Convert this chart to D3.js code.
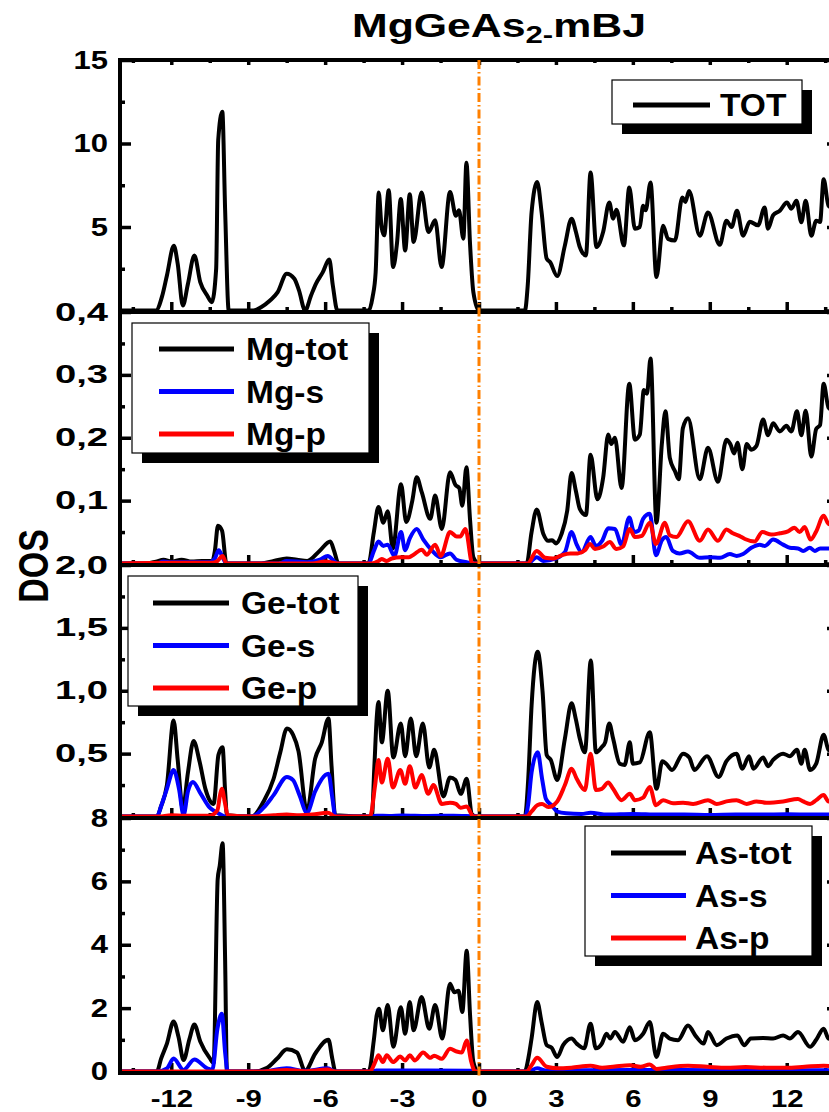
<!DOCTYPE html>
<html lang="en">
<head>
<meta charset="UTF-8">
<title>MgGeAs2 mBJ DOS</title>
<style>
  body { margin: 0; background: #fff; }
  svg { display: block; }
  text { font-family: "Liberation Sans", Arial, sans-serif; font-weight: bold; fill: #000; }
  .domain { display: none; }
  .tick line { stroke: #000; stroke-width: 3.5px; }
</style>
<script src="https://d3js.org/d3.v7.min.js"></script>
</head>
<body>
<svg></svg>
<script>
// energies (eV) vs DOS
const tot = [[-14,0],[-12.6,0],[-12.35,0.9],[-12.17,2.1],[-11.9,3.87],[-11.75,2.8],[-11.55,0.3],[-11.35,1.6],[-11.1,3.3],[-10.87,1.7],[-10.6,0.9],[-10.42,0.5],[-10.25,2.5],[-10.17,10.2],[-10.01,11.9],[-9.9,6],[-9.76,0],[-8.8,0],[-8.5,0.2],[-8.15,0.6],[-7.85,1.1],[-7.5,2.2],[-7.2,1.9],[-7.02,1.2],[-6.78,0],[-6.55,0.9],[-6.36,1.6],[-6.09,2.3],[-5.84,3.05],[-5.7,1.5],[-5.52,0],[-4.3,0],[-4.15,0.8],[-4.03,2.3],[-3.91,7.06],[-3.8,5.0],[-3.7,4.5],[-3.52,7.2],[-3.35,2.6],[-3.2,4],[-3.05,6.67],[-2.88,3.6],[-2.7,6.96],[-2.55,4.1],[-2.24,7.06],[-1.97,4.7],[-1.71,5.4],[-1.46,2.6],[-1.13,7.1],[-0.9,5.67],[-0.78,6.0],[-0.61,4.3],[-0.49,8.85],[-0.35,4],[-0.22,1.1],[0,0],[1.79,0],[1.9,1.5],[2.05,5.87],[2.27,7.7],[2.44,5.9],[2.64,3.1],[2.77,2.9],[3.05,2.06],[3.35,3.9],[3.61,5.5],[3.78,4.7],[3.93,3.8],[4.17,3.3],[4.35,8.26],[4.58,3.8],[4.84,4.7],[5.08,6.47],[5.23,5.5],[5.36,6.03],[5.65,3.9],[5.86,7.36],[6.08,4.9],[6.27,5.0],[6.4,6.27],[6.5,6.0],[6.69,7.66],[6.92,2.0],[7.18,5.08],[7.37,4.29],[7.64,4.19],[7.93,6.77],[8.05,6.5],[8.19,7.16],[8.61,4.48],[8.93,5.87],[9.39,3.93],[9.65,5.38],[9.85,5.0],[10.06,5.97],[10.3,4.48],[10.56,5.32],[10.88,5.1],[11.14,6.17],[11.27,4.9],[11.47,5.7],[11.73,5.97],[12.01,6.47],[12.18,6.1],[12.38,6.57],[12.57,5.28],[12.74,6.57],[12.96,4.48],[13.15,5.38],[13.3,5.3],[13.44,7.86],[13.63,6.27],[14,6.0]];

const mgTot = [[-14,0],[-13,0],[-12.6,0.003],[-12.3,0.006],[-12.0,0.003],[-11.6,0.006],[-11.2,0.003],[-10.8,0.004],[-10.4,0.004],[-10.3,0.02],[-10.18,0.06],[-10.02,0.052],[-9.85,0],[-8.5,0],[-8.0,0.004],[-7.5,0.008],[-7.1,0.006],[-6.7,0.004],[-6.22,0.02],[-5.8,0.035],[-5.65,0.02],[-5.48,0],[-4.31,0],[-4.1,0.05],[-3.92,0.09],[-3.73,0.065],[-3.56,0.083],[-3.36,0.024],[-3.04,0.126],[-2.84,0.066],[-2.6,0.10],[-2.43,0.137],[-2.23,0.113],[-1.9,0.071],[-1.71,0.108],[-1.45,0.055],[-1.13,0.145],[-0.92,0.125],[-0.77,0.12],[-0.65,0.092],[-0.49,0.153],[-0.35,0.07],[-0.22,0.01],[0,0],[1.86,0],[2.05,0.05],[2.25,0.086],[2.51,0.047],[2.7,0.036],[2.85,0.037],[3.0,0.032],[3.22,0.047],[3.44,0.084],[3.61,0.144],[3.78,0.115],[3.93,0.087],[4.17,0.077],[4.35,0.173],[4.62,0.102],[4.84,0.136],[5.04,0.205],[5.16,0.19],[5.3,0.2],[5.56,0.12],[5.86,0.286],[6.08,0.197],[6.27,0.205],[6.43,0.276],[6.55,0.27],[6.69,0.326],[6.92,0.065],[7.13,0.19],[7.27,0.242],[7.44,0.168],[7.64,0.147],[7.79,0.134],[7.95,0.215],[8.15,0.231],[8.61,0.134],[8.93,0.184],[9.32,0.13],[9.65,0.197],[9.8,0.19],[9.95,0.175],[10.08,0.192],[10.27,0.15],[10.44,0.19],[10.62,0.181],[10.82,0.187],[11.08,0.229],[11.27,0.204],[11.47,0.223],[11.73,0.21],[11.99,0.219],[12.18,0.21],[12.4,0.242],[12.57,0.204],[12.74,0.243],[12.96,0.17],[13.15,0.214],[13.3,0.22],[13.44,0.286],[13.63,0.248],[14,0.24]];
const mgS = [[-14,0],[-12.6,0],[-12.3,0.003],[-12.0,0.002],[-10.5,0.002],[-10.3,0.008],[-10.15,0.021],[-10.0,0.01],[-9.85,0],[-7.8,0],[-7.5,0.004],[-6.7,0.002],[-6.2,0.006],[-5.9,0.012],[-5.6,0.002],[-5.5,0],[-4.31,0],[-4.1,0.02],[-3.92,0.035],[-3.73,0.028],[-3.56,0.03],[-3.3,0.012],[-3.04,0.05],[-2.88,0.021],[-2.7,0.04],[-2.43,0.055],[-2.17,0.038],[-1.84,0.021],[-1.5,0.01],[-1.13,0.016],[-0.88,0.006],[-0.48,0.002],[-0.2,0],[1.9,0],[2.25,0.01],[2.5,0.004],[3.0,0.008],[3.35,0.018],[3.61,0.05],[3.81,0.03],[4.0,0.018],[4.35,0.042],[4.56,0.028],[4.8,0.036],[5.04,0.056],[5.3,0.055],[5.56,0.03],[5.86,0.073],[6.05,0.05],[6.22,0.052],[6.4,0.071],[6.66,0.079],[6.9,0.013],[7.13,0.037],[7.3,0.042],[7.56,0.02],[7.82,0.016],[8.15,0.019],[8.61,0.009],[9.0,0.01],[9.4,0.009],[9.78,0.015],[10.05,0.012],[10.3,0.015],[10.62,0.025],[10.95,0.03],[11.15,0.028],[11.47,0.038],[11.86,0.03],[12.12,0.025],[12.44,0.024],[12.64,0.02],[12.9,0.025],[13.1,0.02],[13.3,0.024],[13.63,0.024],[14,0.024]];
const mgP = [[-14,0],[-12.0,0.001],[-10.4,0.001],[-10.2,0.004],[-10.0,0.012],[-9.85,0],[-6.5,0],[-6.0,0.003],[-5.5,0],[-4.2,0],[-3.92,0.004],[-3.8,0.007],[-3.6,0.004],[-3.4,0.008],[-3.05,0.01],[-2.73,0.01],[-2.55,0.014],[-2.23,0.022],[-2.04,0.014],[-1.71,0.03],[-1.49,0.012],[-1.13,0.05],[-0.87,0.043],[-0.73,0.043],[-0.53,0.055],[-0.26,0],[1.9,0],[2.25,0.02],[2.58,0.009],[2.9,0.008],[3.22,0.013],[3.55,0.016],[3.85,0.016],[4.13,0.021],[4.33,0.031],[4.52,0.023],[4.84,0.027],[5.1,0.034],[5.36,0.023],[5.62,0.027],[5.88,0.055],[6.08,0.042],[6.35,0.044],[6.66,0.065],[6.9,0.031],[7.25,0.065],[7.44,0.045],[7.7,0.042],[8.15,0.067],[8.61,0.036],[8.93,0.054],[9.32,0.036],[9.65,0.054],[9.9,0.048],[10.15,0.044],[10.37,0.039],[10.75,0.035],[11.05,0.05],[11.4,0.046],[11.73,0.048],[12.05,0.051],[12.3,0.057],[12.5,0.05],[12.7,0.058],[12.93,0.038],[13.15,0.051],[13.44,0.076],[13.63,0.063],[14,0.06]];

const geTot = [[-14,0],[-12.56,0],[-12.4,0.08],[-12.17,0.25],[-11.91,0.764],[-11.75,0.45],[-11.55,0.063],[-11.35,0.35],[-11.13,0.6],[-10.9,0.44],[-10.67,0.22],[-10.35,0.1],[-10.16,0.49],[-10.0,0.55],[-9.9,0.2],[-9.83,0.01],[-8.86,0],[-8.4,0.12],[-8.01,0.3],[-7.75,0.51],[-7.49,0.7],[-7.25,0.65],[-7.04,0.52],[-6.71,0.04],[-6.39,0.46],[-6.13,0.59],[-5.87,0.78],[-5.75,0.4],[-5.61,0.01],[-4.18,0],[-4.08,0.4],[-3.99,0.78],[-3.92,0.91],[-3.79,0.59],[-3.56,1.0],[-3.34,0.47],[-3.05,0.74],[-2.88,0.48],[-2.66,0.78],[-2.45,0.48],[-2.19,0.74],[-1.94,0.39],[-1.75,0.53],[-1.39,0.16],[-1.13,0.31],[-0.92,0.29],[-0.71,0.18],[-0.48,0.3],[-0.28,0.02],[-0.1,0],[1.79,0],[1.92,0.3],[2.05,0.88],[2.29,1.31],[2.48,0.99],[2.64,0.49],[2.8,0.45],[3.05,0.29],[3.35,0.62],[3.61,0.9],[3.78,0.77],[3.93,0.62],[4.13,0.51],[4.36,1.24],[4.56,0.51],[4.78,0.55],[4.92,0.59],[5.08,0.74],[5.23,0.62],[5.49,0.42],[5.68,0.41],[5.88,0.59],[6.0,0.42],[6.27,0.43],[6.66,0.67],[6.92,0.22],[7.15,0.44],[7.3,0.42],[7.53,0.37],[7.96,0.5],[8.2,0.47],[8.4,0.37],[8.89,0.48],[9.34,0.315],[9.65,0.44],[10.04,0.5],[10.27,0.38],[10.53,0.48],[10.7,0.38],[11.08,0.47],[11.27,0.4],[11.47,0.45],[11.86,0.5],[12.12,0.48],[12.4,0.53],[12.57,0.42],[12.7,0.53],[12.91,0.37],[13.15,0.42],[13.44,0.65],[13.63,0.53],[14,0.5]];
const geS = [[-14,0],[-12.56,0],[-12.4,0.08],[-12.17,0.22],[-11.91,0.37],[-11.7,0.22],[-11.52,0.01],[-11.35,0.2],[-11.16,0.275],[-10.85,0.18],[-10.5,0.07],[-10.2,0.03],[-9.9,0],[-8.86,0],[-8.4,0.07],[-8.01,0.17],[-7.49,0.315],[-7.25,0.29],[-7.0,0.17],[-6.71,0.03],[-6.39,0.2],[-5.87,0.34],[-5.72,0.15],[-5.6,0],[-4.3,0],[-4.0,0.006],[-3.5,0.004],[-3.0,0.008],[-2.0,0.004],[-1.0,0.006],[-0.3,0.002],[0,0],[1.8,0],[1.92,0.1],[2.05,0.35],[2.29,0.51],[2.46,0.3],[2.61,0.14],[2.83,0.09],[3.05,0.04],[3.4,0.025],[4.0,0.02],[4.35,0.03],[5.0,0.015],[6.0,0.02],[7.0,0.015],[8.0,0.015],[9.0,0.012],[10.0,0.015],[11.0,0.015],[12.0,0.018],[13.0,0.015],[14,0.015]];
const geP = [[-14,0],[-12.5,0],[-12.0,0.01],[-11.5,0.005],[-10.5,0.005],[-10.2,0.05],[-10.1,0.17],[-10.03,0.22],[-9.9,0.1],[-9.8,0.01],[-8.8,0],[-8.0,0.01],[-7.5,0.015],[-7.0,0.01],[-6.5,0.015],[-5.9,0.03],[-5.6,0],[-4.25,0],[-4.05,0.25],[-3.92,0.45],[-3.79,0.27],[-3.56,0.46],[-3.36,0.23],[-3.07,0.37],[-2.88,0.26],[-2.7,0.4],[-2.48,0.23],[-2.24,0.33],[-1.98,0.18],[-1.78,0.25],[-1.45,0.1],[-1.13,0.11],[-0.9,0.1],[-0.72,0.07],[-0.48,0.08],[-0.22,0],[1.85,0],[2.05,0.04],[2.27,0.09],[2.46,0.1],[2.7,0.075],[3.05,0.12],[3.35,0.25],[3.61,0.38],[3.81,0.3],[4.13,0.21],[4.35,0.5],[4.56,0.21],[4.79,0.22],[5.04,0.27],[5.23,0.22],[5.56,0.13],[5.88,0.18],[6.08,0.13],[6.4,0.15],[6.66,0.235],[6.9,0.09],[7.18,0.13],[7.57,0.105],[7.96,0.11],[8.35,0.1],[8.93,0.13],[9.27,0.1],[9.65,0.12],[10.04,0.13],[10.44,0.1],[10.82,0.12],[11.21,0.11],[11.86,0.12],[12.44,0.14],[12.64,0.12],[12.91,0.1],[13.15,0.13],[13.44,0.17],[13.63,0.12],[14,0.13]];

const asTot = [[-14,0],[-12.56,0],[-12.4,0.4],[-12.17,0.88],[-11.91,1.58],[-11.72,1.1],[-11.52,0.36],[-11.3,1.0],[-11.1,1.48],[-10.87,0.95],[-10.5,0.42],[-10.35,0.27],[-10.19,6.07],[-10.11,6.5],[-10.0,7.2],[-9.9,3.5],[-9.83,0],[-8.8,0],[-8.26,0.12],[-7.88,0.4],[-7.49,0.7],[-7.1,0.6],[-6.78,0.02],[-6.39,0.56],[-5.87,1.0],[-5.72,0.4],[-5.6,0],[-4.3,0],[-4.1,1.0],[-3.99,1.77],[-3.9,1.98],[-3.75,1.3],[-3.56,2.1],[-3.34,0.78],[-3.05,2.03],[-2.88,1.19],[-2.7,2.19],[-2.55,1.3],[-2.24,2.35],[-1.94,1.35],[-1.71,2.1],[-1.43,1.04],[-1.13,2.77],[-0.96,2.5],[-0.8,2.55],[-0.65,1.88],[-0.48,3.81],[-0.35,1.8],[-0.22,0.3],[-0.05,0],[1.79,0],[1.92,0.4],[2.05,1.04],[2.27,2.19],[2.44,1.56],[2.64,0.83],[2.83,0.75],[3.05,0.46],[3.28,0.83],[3.61,1.04],[3.81,0.88],[4.1,0.73],[4.35,1.51],[4.56,0.73],[4.79,0.88],[4.97,1.19],[5.12,1.04],[5.3,1.25],[5.62,0.94],[5.88,1.4],[6.08,0.99],[6.4,1.19],[6.66,1.56],[6.92,0.46],[7.18,1.19],[7.44,1.04],[7.76,0.99],[8.15,1.45],[8.47,1.1],[8.76,0.88],[8.93,1.25],[9.27,0.83],[9.65,1.04],[10.08,1.14],[10.34,0.83],[10.6,1.04],[11.08,1.06],[11.47,1.04],[11.86,1.14],[12.12,1.04],[12.44,1.25],[12.91,0.78],[13.15,1.0],[13.44,1.35],[13.63,1.04],[14,1.0]];
const asS = [[-14,0],[-12.56,0],[-12.17,0.1],[-11.91,0.41],[-11.52,0.05],[-11.1,0.38],[-10.6,0.1],[-10.4,0.05],[-10.2,1.35],[-10.03,1.82],[-9.9,0.6],[-9.8,0],[-8.5,0],[-7.5,0.1],[-6.8,0.02],[-5.9,0.1],[-5.6,0],[-4.2,0],[-4.0,0.03],[-2.0,0.03],[-0.3,0.02],[0,0],[1.9,0],[2.27,0.1],[2.6,0.03],[4.0,0.04],[6.0,0.05],[8.0,0.05],[10.0,0.04],[12.0,0.04],[14,0.04]];
const asP = [[-14,0],[-8.5,0],[-7.5,0.05],[-6.8,0.01],[-5.9,0.06],[-5.6,0],[-4.25,0],[-4.05,0.3],[-3.92,0.51],[-3.75,0.3],[-3.6,0.51],[-3.35,0.3],[-3.07,0.47],[-2.88,0.35],[-2.7,0.51],[-2.5,0.35],[-2.18,0.6],[-1.9,0.43],[-1.75,0.5],[-1.45,0.4],[-1.13,0.72],[-0.87,0.63],[-0.67,0.6],[-0.48,0.98],[-0.3,0.3],[-0.15,0],[1.85,0],[2.05,0.2],[2.27,0.43],[2.64,0.15],[3.05,0.1],[3.6,0.12],[4.35,0.18],[4.8,0.12],[5.3,0.16],[5.88,0.2],[6.3,0.15],[6.66,0.22],[6.92,0.08],[7.3,0.12],[8.15,0.18],[8.9,0.15],[9.65,0.12],[10.4,0.14],[11.2,0.12],[12.0,0.12],[12.7,0.15],[13.44,0.18],[14,0.14]];

const totLabels = ["TOT"];
const mgLabels = ["Mg-tot", "Mg-s", "Mg-p"];
const geLabels = ["Ge-tot", "Ge-s", "Ge-p"];
const asLabels = ["As-tot", "As-s", "As-p"];
const seriesColors = ["#000000", "#0000ff", "#ff0000"];
const xTicks = [-12, -9, -6, -3, 0, 3, 6, 9, 12];

const width = 829, height = 1112;
const stretch = 1.24; // the original's glyphs are wider than Arial

const svg = d3.select("svg").attr("width", width).attr("height", height);
const x = d3.scaleLinear().domain([-14, 14]).range([120, 838]);
const bounds = [60, 312, 565, 818, 1073];

const fmtComma = d => d3.format(".1f")(d).replace(".", ",");
const fmtInt = d => String(d);

const panels = [
  { series: [tot], labels: totLabels, max: 15, step: 5, fmt: fmtInt,
    legend: { x: 612, y: 80, w: 190, h: 44, line: [633, 710], tx: 720, first: 105 } },
  { series: [mgTot, mgS, mgP], labels: mgLabels, max: 0.4, step: 0.1, fmt: fmtComma,
    legend: { x: 132, y: 323, w: 237, h: 130, line: [159, 234], tx: 246, first: 349 } },
  { series: [geTot, geS, geP], labels: geLabels, max: 2, step: 0.5, fmt: fmtComma,
    legend: { x: 128, y: 576, w: 230, h: 130, line: [153, 229], tx: 241, first: 603 } },
  { series: [asTot, asS, asP], labels: asLabels, max: 8, step: 2, fmt: fmtInt,
    legend: { x: 585, y: 826, w: 227, h: 130, line: [611, 686], tx: 695, first: 853 } }
];

function widen(sel, k, extra) {
  sel.each(function () {
    const w = this.getComputedTextLength();
    const add = extra ? extra(this.textContent) : 0;
    d3.select(this).attr("textLength", w * k + add).attr("lengthAdjust", "spacingAndGlyphs");
  });
}

const defs = svg.append("defs");
const last = panels.length - 1;

panels.forEach((p, i) => {
  const top = bounds[i], bottom = bounds[i + 1];
  const y = d3.scaleLinear().domain([0, p.max]).range([bottom - 1.5, top]);
  const majors = d3.range(0, p.max + 1e-9, p.step);
  const minors = d3.range(p.step / 2, p.max, p.step);
  const xMinor = d3.range(-13.5, 14, 3);

  // clip for the curves
  defs.append("clipPath").attr("id", "clip" + i)
    .append("rect").attr("x", 120).attr("y", top).attr("width", 718).attr("height", bottom - top + 2);

  // left axis
  const left = svg.append("g").attr("transform", "translate(120,0)");
  left.call(d3.axisLeft(y).tickValues(majors).tickSize(-11).tickPadding(12)
    .tickFormat(d => (Math.abs(d) < 1e-9 && i !== last) ? "" : p.fmt(d)));
  left.selectAll("text").style("font-size", "25px");
  widen(left.selectAll("text"), stretch, t => t.includes(",") ? 10 : 0);
  svg.append("g").attr("transform", "translate(120,0)")
    .call(d3.axisLeft(y).tickValues(minors).tickSize(-5).tickFormat(""));

  // right axis
  svg.append("g").attr("transform", "translate(838,0)")
    .call(d3.axisRight(y).tickValues(majors).tickSize(-11).tickFormat(""));
  svg.append("g").attr("transform", "translate(838,0)")
    .call(d3.axisRight(y).tickValues(minors).tickSize(-5).tickFormat(""));

  // bottom ticks of the panel
  const bx = svg.append("g").attr("transform", `translate(0,${bottom})`);
  bx.call(d3.axisBottom(x).tickValues(xTicks).tickSize(-10).tickPadding(17)
    .tickFormat(i === last ? fmtInt : ""));
  if (i === last) {
    bx.selectAll("text").style("font-size", "24px");
    widen(bx.selectAll("text"), 1.22);
  }
  svg.append("g").attr("transform", `translate(0,${bottom})`)
    .call(d3.axisBottom(x).tickValues(xMinor).tickSize(-5).tickFormat(""));

  if (i === 0) {
    svg.append("g").attr("transform", `translate(0,${top})`)
      .call(d3.axisTop(x).tickValues(xTicks).tickSize(-5).tickFormat(""));
    svg.append("g").attr("transform", `translate(0,${top})`)
      .call(d3.axisTop(x).tickValues(xMinor).tickSize(-3).tickFormat(""));
  }

  // curves
  const line = d3.line().x(d => x(d[0])).y(d => y(d[1])).curve(d3.curveMonotoneX);
  svg.append("g").attr("clip-path", `url(#clip${i})`)
    .selectAll("path").data(p.series).join("path")
    .attr("d", line)
    .attr("fill", "none")
    .attr("stroke", (d, k) => seriesColors[k])
    .attr("stroke-width", 4)
    .attr("stroke-linejoin", "round");
});

// frame
svg.append("g").selectAll("line").data(bounds).join("line")
  .attr("x1", 118).attr("x2", 840).attr("y1", d => d).attr("y2", d => d)
  .attr("stroke", "#000").attr("stroke-width", 4);
svg.append("g").selectAll("line").data([120, 838]).join("line")
  .attr("x1", d => d).attr("x2", d => d).attr("y1", bounds[0] - 2).attr("y2", bounds[4] + 2)
  .attr("stroke", "#000").attr("stroke-width", 4);

// Fermi level
svg.append("line")
  .attr("x1", x(0)).attr("x2", x(0)).attr("y1", bounds[0]).attr("y2", bounds[4] + 3)
  .attr("stroke", "#ff8000").attr("stroke-width", 3)
  .attr("stroke-dasharray", "9,3,1.5,3");

// legends
panels.forEach((p, i) => {
  const L = p.legend;
  const g = svg.append("g");
  g.append("rect").attr("x", L.x + 10).attr("y", L.y + 10).attr("width", L.w).attr("height", L.h).attr("fill", "#000");
  g.append("rect").attr("x", L.x).attr("y", L.y).attr("width", L.w).attr("height", L.h)
    .attr("fill", "#fff").attr("stroke", "#000").attr("stroke-width", 1.2);
  p.labels.forEach((name, k) => {
    const ly = L.first + k * 42.5;
    g.append("line").attr("x1", L.line[0]).attr("x2", L.line[1]).attr("y1", ly).attr("y2", ly)
      .attr("stroke", seriesColors[k]).attr("stroke-width", 5);
    g.append("text").attr("x", L.tx).attr("y", ly + 11).style("font-size", "31px").text(name);
  });
  widen(g.selectAll("text"), 1.08);
});

// title
const title = svg.append("text").attr("x", 499).attr("y", 37)
  .attr("text-anchor", "middle").style("font-size", "33px");
title.append("tspan").text("MgGeAs");
title.append("tspan").attr("dy", 6).style("font-size", "24px").text("2-");
title.append("tspan").attr("dy", -6).text("mBJ");
title.attr("textLength", 294).attr("lengthAdjust", "spacingAndGlyphs");

// y label
svg.append("text")
  .attr("transform", "translate(48,566) scale(1.27,1) rotate(-90)")
  .attr("text-anchor", "middle").style("font-size", "34px").text("DOS");
</script>
</body>
</html>
